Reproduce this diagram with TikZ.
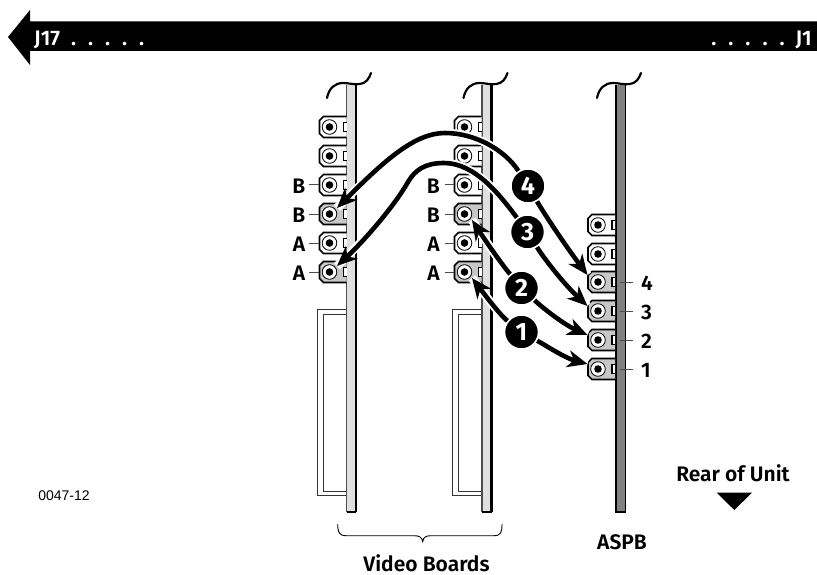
\documentclass[tikz,border=0pt]{standalone}
\usepackage{fontspec}
\setmainfont{Liberation Sans}
\newfontfamily\labfont{Fira Sans SemiBold}
\newfontfamily\numfont{Fira Sans}
\usetikzlibrary{arrows.meta,decorations.pathreplacing}
\definecolor{boardgrey}{gray}{0.88}
\definecolor{aspbgrey}{gray}{0.5}
\definecolor{connsel}{gray}{0.78}
\tikzset{
  lbl/.style={font=\labfont\fontsize{21}{21}\selectfont,text=black,inner sep=0pt},
  badge/.style={circle,fill=black,draw=white,line width=1.5pt,minimum size=34pt,inner sep=0pt,text=white,font=\numfont\fontsize{25}{25}\selectfont\bfseries},
  wire/.style={line width=4.6pt,-{Stealth[length=20pt,width=17pt,inset=6pt]},preaction={draw=white,line width=8.5pt,-}},
  tick/.style={line width=1pt,black!70},
  connbox/.style={minimum width=27pt,minimum height=21pt,inner sep=0pt}
}
% \conn{name}{x}{y}{fill}
\newcommand{\conn}[4]{%
  \node[connbox] (#1) at (#2,#3) {};
  \begin{scope}[shift={(#2,#3)}]
    \draw[line width=1.6pt,fill=#4] (13.5,-10.5) -- (-9.5,-10.5) -- (-13.5,-6.5) -- (-13.5,6.5) -- (-9.5,10.5) -- (13.5,10.5);
    \draw[line width=1.1pt,fill=white] (13.5,-4.5) -- (10.5,-4.5) -- (10.5,4.5) -- (13.5,4.5);
    \draw[line width=0.8pt,fill=white] (-3.5,0) circle (7.3);
    \fill[black] (-3.5,0) circle (3.8);
  \end{scope}}
\newcommand{\squig}[1]{%
  \draw[line width=2.2pt,line cap=round,shift={(#1,0)}] (327,98) .. controls (329,88) and (335,83) .. (343,83) .. controls (349,83) and (354,85) .. (360,84) .. controls (366,83) and (369,79) .. (371,73);}
\newcommand{\boardbar}[1]{%
  \fill[boardgrey] (#1,85) rectangle (#1+9.5,512);
  \draw[line width=1.3pt,black!70] (#1,85) -- (#1,512);
  \draw[line width=2.2pt] (#1+9.5,85) -- (#1+9.5,512);
  \draw[line width=1.4pt] (#1,512) -- (#1+9.5,512);}
\newcommand{\stiff}[1]{%
  \draw[line width=1pt,black!80,shift={(#1,0)}] (346,309) -- (317,309) -- (317,495.5) -- (346,495.5);
  \draw[line width=1pt,black!80,shift={(#1,0)}] (346,314) -- (323,314) -- (323,491) -- (346,491);}
\begin{document}
\begin{tikzpicture}[x=1pt,y=-1pt]
\useasboundingbox (0,0) rectangle (817,575);
% top bar
\fill[black] (8,37) -- (30,10) -- (30,21.5) -- (817,21.5) -- (817,51) -- (30,51) -- (30,65) -- cycle;
\def\gp{\hspace{12pt}}
\node[anchor=base west,inner sep=0pt,text=white,font=\labfont\fontsize{21}{21}\selectfont] (j17) at (34,45.5) {J17\hspace{11pt}.\gp.\gp.\gp.\gp.};
\node[anchor=base east,inner sep=0pt,text=white,font=\labfont\fontsize{21}{21}\selectfont] (j1) at (812,45.5) {.\gp.\gp.\gp.\gp.\hspace{11pt}J1};
% boards
\stiff{0}\stiff{135.5}
\boardbar{346.5}\boardbar{482}
\fill[aspbgrey] (616,85) rectangle (625.5,512);
\draw[line width=1.8pt] (616,85) -- (616,512) -- (625.5,512) -- (625.5,85);
\squig{0}\squig{136.5}\squig{270}
% connectors
\conn{aa}{333}{127}{white}\conn{ab}{333}{156}{white}\conn{ac}{333}{185}{white}
\conn{ad}{333}{214}{connsel}\conn{ae}{333}{243}{white}\conn{af}{333}{272}{connsel}
\conn{ba}{468}{127}{white}\conn{bb}{468}{156}{white}\conn{bc}{468}{185}{white}
\conn{bd}{468}{214}{connsel}\conn{be}{468}{243}{white}\conn{bf}{468}{272}{connsel}
\conn{ca}{601.5}{225}{white}\conn{cb}{601.5}{254}{white}\conn{cc}{601.5}{282}{connsel}
\conn{cd}{601.5}{311}{connsel}\conn{ce}{601.5}{340}{connsel}\conn{cf}{601.5}{369}{connsel}
% labels and ticks
\foreach \nm/\txt/\yy in {ac/B/185,ad/B/214,ae/A/243,af/A/272}{
  \node[lbl,anchor=east] (l\nm) at (305.5,\yy+1) {\txt};
  \draw[tick] (309,\yy) -- (\nm.west);}
\foreach \nm/\txt/\yy in {bc/B/185,bd/B/214,be/A/243,bf/A/272}{
  \node[lbl,anchor=east] (l\nm) at (440,\yy+1) {\txt};
  \draw[tick] (445,\yy) -- (\nm.west);}
\foreach \nm/\txt/\yy in {cc/4/283,cd/3/312,ce/2/341,cf/1/370}{
  \node[lbl,anchor=west] (l\nm) at (641,\yy) {\txt};
  \draw[tick] (620,\yy-1) -- (633,\yy-1);}
% badges
\node[badge] (n4) at (528,186) {};
\node[badge] (n3) at (527.5,232) {};
\node[badge] (n2) at (521.5,288) {};
\node[badge] (n1) at (521.5,332) {};
% wires
\draw[wire] (n4) .. controls (505,150) and (475,133) .. (445,133) .. controls (415,133) and (385,160) .. ([shift={(4,-6)}]ad.center);
\draw[wire] (n3) .. controls (500,195) and (475,163) .. (444,163) .. controls (425,163) and (415,170) .. (408,182) .. controls (395,205) and (365,240) .. ([shift={(4,-6)}]af.center);
\draw[wire] (n4) .. controls (545,215) and (565,245) .. ([shift={(-14,-7)}]cc.center);
\draw[wire] (n3) .. controls (545,260) and (565,285) .. ([shift={(-14,-5)}]cd.center);
\draw[wire] (n2) .. controls (545,310) and (565,325) .. ([shift={(-14,-5)}]ce.center);
\draw[wire] (n1) .. controls (545,345) and (565,358) .. ([shift={(-14,-5)}]cf.center);
\draw[wire] (n2) .. controls (500,262) and (485,240) .. ([shift={(4,6)}]bd.center);
\draw[wire] (n1) .. controls (500,315) and (485,295) .. ([shift={(4,6)}]bf.center);
\node[badge] at (n4) {4};
\node[badge] at (n3) {3};
\node[badge] at (n2) {2};
\node[badge] at (n1) {1};
% brace
\draw[line width=0.9pt] (337.7,524) .. controls (337.7,532) and (339,535.7) .. (346,535.7) -- (414,535.7) .. controls (419,535.7) and (422,537) .. (422.7,541.5) .. controls (423.5,537) and (426,535.7) .. (431,535.7) -- (494,535.7) .. controls (501,535.7) and (502,532) .. (502,524);
% captions
\node[lbl] (vb) at (426.5,563) {Video Boards};
\node[lbl] (aspb) at (622,542) {ASPB};
\node[lbl] (rear) at (733,473) {Rear of Unit};
\fill[black] (716.7,492.7) -- (752,492.7) -- (734.3,510) -- cycle;
\node[inner sep=0pt,font=\fontsize{14}{14}\selectfont] (fig) at (64,496) {0047-12};
\end{tikzpicture}
\end{document}
